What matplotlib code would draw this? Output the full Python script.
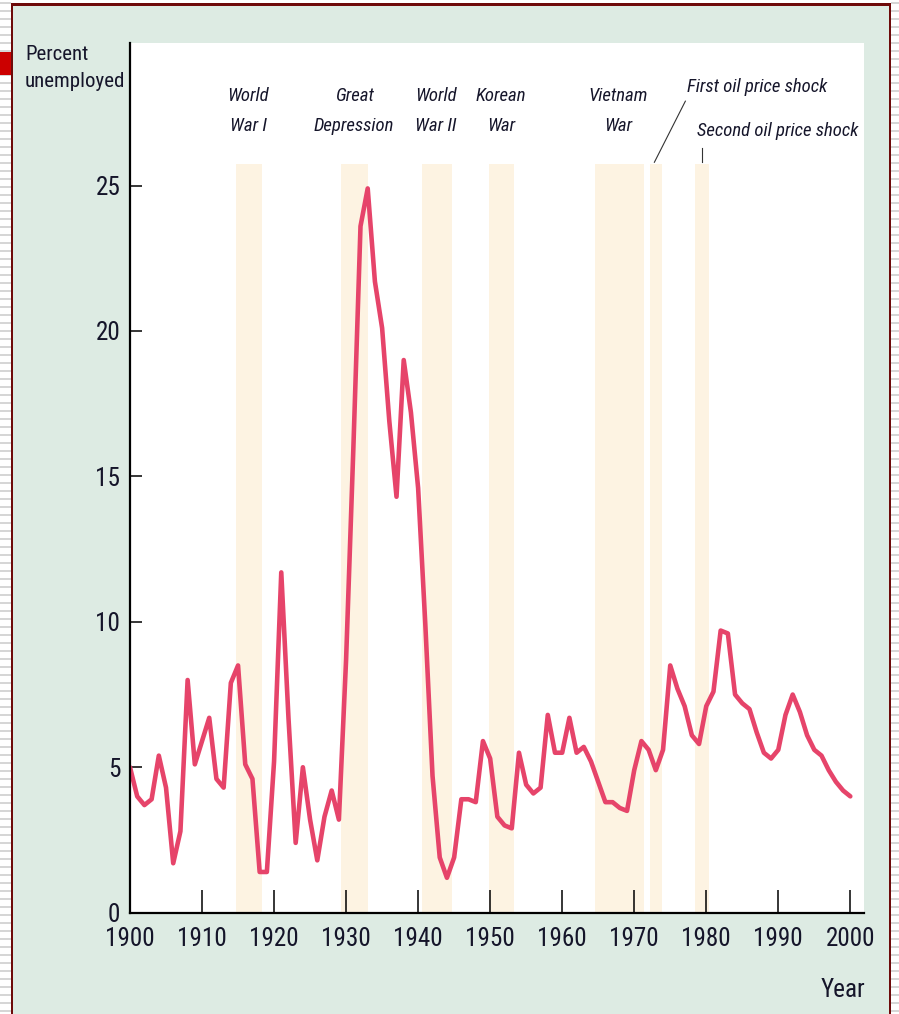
import os
import matplotlib
matplotlib.use("Agg")
import matplotlib.pyplot as plt
from matplotlib import font_manager
from matplotlib.font_manager import FontProperties
from matplotlib.patches import Rectangle

# US unemployment rate, 1900-2000 (percent)
years = list(range(1900, 2001))
unemployment = [
    5.0, 4.0, 3.7, 3.9, 5.4, 4.3, 1.7, 2.8, 8.0, 5.1,    # 1900s
    5.9, 6.7, 4.6, 4.3, 7.9, 8.5, 5.1, 4.6, 1.4, 1.4,    # 1910s
    5.2, 11.7, 6.7, 2.4, 5.0, 3.2, 1.8, 3.3, 4.2, 3.2,   # 1920s
    8.7, 15.9, 23.6, 24.9, 21.7, 20.1, 16.9, 14.3, 19.0, 17.2,  # 1930s
    14.6, 9.9, 4.7, 1.9, 1.2, 1.9, 3.9, 3.9, 3.8, 5.9,   # 1940s
    5.3, 3.3, 3.0, 2.9, 5.5, 4.4, 4.1, 4.3, 6.8, 5.5,    # 1950s
    5.5, 6.7, 5.5, 5.7, 5.2, 4.5, 3.8, 3.8, 3.6, 3.5,    # 1960s
    4.9, 5.9, 5.6, 4.9, 5.6, 8.5, 7.7, 7.1, 6.1, 5.8,    # 1970s
    7.1, 7.6, 9.7, 9.6, 7.5, 7.2, 7.0, 6.2, 5.5, 5.3,    # 1980s
    5.6, 6.8, 7.5, 6.9, 6.1, 5.6, 5.4, 4.9, 4.5, 4.2,    # 1990s
    4.0,
]

# shaded episodes (start, end) and their labels
episode_start = [1914.7, 1929.3, 1940.5, 1949.9, 1964.6, 1972.2, 1978.5]
episode_end = [1918.3, 1933.1, 1944.7, 1953.3, 1971.3, 1973.9, 1980.4]
band_top = 25.75

war_labels = ["World\nWar I", "Great\nDepression", "World\nWar II", "Korean\nWar", "Vietnam\nWar"]
war_label_x = [1916.4, 1931.1, 1942.5, 1951.5, 1967.8]

x_ticks = list(range(1900, 2001, 10))
y_ticks = [0, 5, 10, 15, 20, 25]

W, H = 899, 1014
line_color = "#e6446a"
band_color = "#fdf3e2"
panel_color = "#ddebe3"
border_color = "#6e0a0a"
text_color = "#15152a"

# look for a narrow font, the original uses a condensed face
files = {os.path.basename(f.fname).lower(): f.fname for f in font_manager.fontManager.ttflist}
candidates = [
    ("liberationsansnarrow-regular.ttf", "liberationsansnarrow-italic.ttf", 1.0),
    ("notosans-extracondensed.ttf", "notosans-extracondenseditalic.ttf", 1.0),
    ("notosans-condensed.ttf", "notosans-condenseditalic.ttf", 0.92),
    ("robotocondensed-regular.ttf", "robotocondensed-italic.ttf", 0.95),
    ("dejavusanscondensed.ttf", "dejavusanscondensed-oblique.ttf", 0.85),
]
reg_fp, ita_fp, scale = None, None, 0.8
for reg, ita, sc in candidates:
    if reg in files:
        reg_fp = FontProperties(fname=files[reg])
        ita_fp = FontProperties(fname=files[ita]) if ita in files else FontProperties(fname=files[reg], style="italic")
        scale = sc
        break
if reg_fp is None:
    reg_fp = FontProperties(family="DejaVu Sans")
    ita_fp = FontProperties(family="DejaVu Sans", style="italic")

tick_size = 19 * scale
title_size = 15.8 * scale
label_size = 14.2 * scale

plt.rcParams["text.color"] = text_color

fig = plt.figure(figsize=(W / 100, H / 100), dpi=100)
fig.patch.set_facecolor("white")


def rect(x0, y0, x1, y1, color):
    fig.add_artist(Rectangle((x0 / W, 1 - y1 / H), (x1 - x0) / W, (y1 - y0) / H,
                             transform=fig.transFigure, facecolor=color,
                             edgecolor="none", zorder=0))


# page decoration: striped margins, green panel, dark red frame
for yy in range(2, H, 8):
    rect(0, yy, 10.5, yy + 2, "#d6d6d6")
    rect(891, yy, W, yy + 2, "#d6d6d6")
rect(12, 5, 889, H, panel_color)
rect(10.5, 3.5, 12.5, H, border_color)
rect(10.5, 3.5, 891, 5.5, border_color)
rect(888.5, 3.5, 890.5, H, border_color)
rect(0, 52, 11, 75, "#cc0000")

ax = fig.add_axes([130 / W, 1 - 912.7 / H, 734 / W, (912.7 - 43) / H])
ax.set_facecolor("white")

# shaded periods
ax.bar(episode_start, band_top,
       width=[e - s for s, e in zip(episode_start, episode_end)],
       align="edge", color=band_color, linewidth=0, zorder=1)

ax.plot(years, unemployment, color=line_color, lw=3.3,
        solid_joinstyle="round", solid_capstyle="round", zorder=3)

ax.set_xlim(1900, 2001.9)
ax.set_ylim(0, 29.9)
ax.set_xticks(x_ticks)
ax.set_yticks(y_ticks)

for side in ["top", "right"]:
    ax.spines[side].set_visible(False)
for side in ["left", "bottom"]:
    ax.spines[side].set_linewidth(1.6)
    ax.spines[side].set_color("black")
    ax.spines[side].set_zorder(4)

ax.tick_params(axis="x", direction="in", length=16.5, width=1.1, pad=10,
               labelcolor=text_color)
ax.tick_params(axis="y", direction="in", length=8.5, width=1.1, pad=7,
               labelcolor=text_color)
for lab in ax.get_xticklabels() + ax.get_yticklabels():
    lab.set_fontproperties(reg_fp)
    lab.set_fontsize(tick_size)

# episode labels
for lx, lab in zip(war_label_x, war_labels):
    ax.text(lx, 27.55, lab, ha="center", va="center", fontproperties=ita_fp,
            fontsize=label_size, linespacing=1.85, zorder=5)

ax.text(1977.3, 28.2, "First oil price shock", ha="left", va="baseline",
        fontproperties=ita_fp, fontsize=label_size, zorder=5)
ax.text(1978.7, 26.7, "Second oil price shock", ha="left", va="baseline",
        fontproperties=ita_fp, fontsize=label_size, zorder=5)
ax.plot([1972.8, 1977.1], [25.8, 27.9], color="#333333", lw=0.8, zorder=5)
ax.plot([1979.4, 1979.4], [25.8, 26.3], color="#333333", lw=0.8, zorder=5)

# axis titles
fig.text(25 / W, 1 - 45 / H, "Percent\nunemployed", ha="left", va="top",
         fontproperties=reg_fp, fontsize=title_size, linespacing=1.55)
fig.text(865 / W, 1 - 997 / H, "Year", ha="right", va="baseline",
         fontproperties=reg_fp, fontsize=tick_size)

fig.savefig("out.png", dpi=100)
